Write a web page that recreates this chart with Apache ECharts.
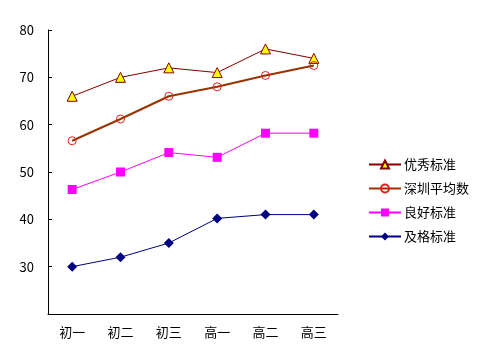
<!DOCTYPE html>
<html><head><meta charset="utf-8">
<script src="https://cdn.jsdelivr.net/npm/echarts@6/dist/echarts.min.js"></script>
<style>html,body{margin:0;padding:0;background:#fff}#c{width:484px;height:364px}</style>
</head><body><div id="c"></div>
<script>
const categories = ['初一','初二','初三','高一','高二','高三'];
const youxiu = [66, 70, 72, 71, 76, 74];
const shenzhen = [56.6, 61.2, 66, 68, 70.4, 72.5];
const lianghao = [46.3, 50, 54.1, 53.1, 58.2, 58.2];
const jige = [30, 32, 35, 40.2, 41, 41];
const seriesNames = ['优秀标准','深圳平均数','良好标准','及格标准'];

const font = 'SimSun, "Noto Sans CJK SC", sans-serif';
const chart = echarts.init(document.getElementById('c'));
chart.setOption({
  animation: false,
  backgroundColor: '#fff',
  textStyle: {fontFamily: font},
  grid: {left: 48, top: 30, right: 146, bottom: 50},
  legend: {
    orient: 'vertical', left: 363, top: 153, itemWidth: 32, itemHeight: 10, itemGap: 11,
    textStyle: {fontSize: 13, color: '#000', fontFamily: font, padding: [0, 0, 0, -2]},
    data: seriesNames
  },
  xAxis: {
    type: 'category', data: categories, boundaryGap: true,
    axisLine: {lineStyle: {color: '#000', width: 1}},
    axisTick: {inside: true, length: 4, lineStyle: {color: '#000'}},
    axisLabel: {color: '#000', fontSize: 13, margin: 12, fontFamily: font},
    splitLine: {show: false}
  },
  yAxis: {
    type: 'value', min: 20, max: 80, interval: 10,
    axisLine: {show: true, lineStyle: {color: '#000', width: 1}},
    axisTick: {show: true, inside: true, length: 4, lineStyle: {color: '#000'}},
    axisLabel: {color: '#000', fontSize: 13, margin: 14, showMinLabel: false, fontFamily: font},
    splitLine: {show: false}
  },
  series: [
    {name: seriesNames[0], type: 'line', data: youxiu, symbol: 'triangle', symbolSize: 10,
     lineStyle: {color: '#800000', width: 1, type: 'solid'}, itemStyle: {color: '#FFFF00', borderColor: '#800000', borderWidth: 1}},
    {name: seriesNames[1], type: 'line', data: shenzhen, symbol: 'circle', symbolSize: 8, showSymbol: true,
     lineStyle: {color: '#993300', width: 2, type: 'solid'}, itemStyle: {color: 'rgba(255,255,255,0)', borderColor: '#e02020', borderWidth: 1}},
    {name: seriesNames[2], type: 'line', data: lianghao, symbol: 'rect', symbolSize: 9,
     lineStyle: {color: '#FF00FF', width: 1, type: 'solid'}, itemStyle: {color: '#FF00FF'}},
    {name: seriesNames[3], type: 'line', data: jige, symbol: 'diamond', symbolSize: 10,
     lineStyle: {color: '#000080', width: 1, type: 'solid'}, itemStyle: {color: '#000080'}}
  ]
});
</script></body></html>
